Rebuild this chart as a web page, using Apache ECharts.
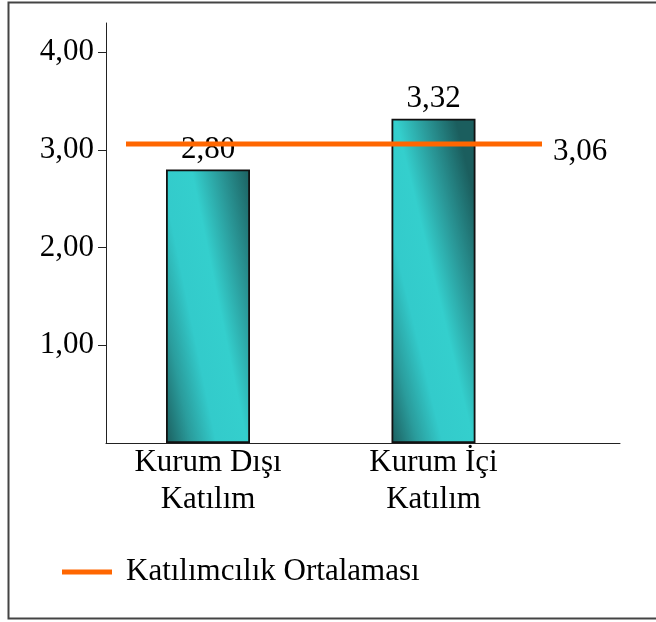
<!DOCTYPE html>
<html>
<head>
<meta charset="utf-8">
<script src="https://cdn.jsdelivr.net/npm/echarts@6/dist/echarts.min.js"></script>
<style>
  html, body { margin: 0; padding: 0; background: #ffffff; }
  #chart { width: 656px; height: 622px; }
</style>
</head>
<body>
<div id="chart"></div>
<script>
const CATEGORIES = ['Kurum Dışı\nKatılım', 'Kurum İçi\nKatılım'];
const VALUES = [2.80, 3.32];
const AVERAGE = 3.06;
const Y_TICKS = [1, 2, 3, 4];
const SERIES_NAME = 'Katılımcılık Ortalaması';

const FONT = "'Liberation Serif', 'Times New Roman', serif";
const fmt = v => Number(v).toFixed(2).replace('.', ',');

const barFill = new echarts.graphic.LinearGradient(0, 1, 1.6, 0.9, [
  { offset: 0, color: '#1b5e5e' },
  { offset: 0.18, color: '#2a9c9c' },
  { offset: 0.36, color: '#33cbcb' },
  { offset: 0.58, color: '#34cfcd' },
  { offset: 0.78, color: '#2a9898' },
  { offset: 1, color: '#1b5e5e' }
]);

const GRID_TOP = 23, GRID_BOTTOM = 179, Y_MAX = 4.3;

const chart = echarts.init(document.getElementById('chart'), null, { renderer: 'canvas' });
chart.setOption({
  animation: false,
  textStyle: { fontFamily: FONT },
  graphic: [{
    type: 'rect',
    shape: { x: 8.5, y: 2.5, width: 700, height: 616 },
    style: { fill: 'none', stroke: '#444', lineWidth: 2 },
    silent: true
  }],
  legend: {
    data: [SERIES_NAME],
    left: 62,
    top: 554,
    padding: 0,
    icon: 'rect',
    itemWidth: 50,
    itemHeight: 5,
    textStyle: { fontFamily: FONT, fontSize: 31, color: '#000', lineHeight: 36, padding: [0, 0, 0, 9] }
  },
  grid: [
    { left: 106, right: 36, top: GRID_TOP, bottom: GRID_BOTTOM },
    { left: 95.25, right: 109.75, top: GRID_TOP, bottom: GRID_BOTTOM },
    { left: 126, right: 114, top: GRID_TOP, bottom: GRID_BOTTOM }
  ],
  xAxis: [
    {
      gridIndex: 0, type: 'category', data: CATEGORIES,
      axisLine: { show: true, lineStyle: { color: '#222', width: 1 } },
      axisTick: { show: false }, axisLabel: { show: false }, splitLine: { show: false }
    },
    {
      gridIndex: 1, type: 'category', data: CATEGORIES,
      axisLine: { show: false }, axisTick: { show: false }, splitLine: { show: false },
      axisLabel: { color: '#000', fontFamily: FONT, fontSize: 31, lineHeight: 37, margin: 1 }
    },
    {
      gridIndex: 2, type: 'category', data: CATEGORIES, boundaryGap: false, show: false
    }
  ],
  yAxis: [
    {
      gridIndex: 0, type: 'value', min: 0, max: Y_MAX,
      axisLine: { show: true, lineStyle: { color: '#222', width: 1 } },
      axisTick: { show: true, length: 8, customValues: Y_TICKS, lineStyle: { color: '#222' } },
      axisLabel: { customValues: Y_TICKS, formatter: fmt, color: '#000', fontFamily: FONT, fontSize: 31, margin: 12 },
      splitLine: { show: false }
    },
    { gridIndex: 1, type: 'value', min: 0, max: Y_MAX, show: false, splitLine: { show: false } },
    { gridIndex: 2, type: 'value', min: 0, max: Y_MAX, show: false, splitLine: { show: false } }
  ],
  series: [
    {
      type: 'bar',
      xAxisIndex: 1, yAxisIndex: 1,
      data: VALUES,
      barWidth: 84,
      itemStyle: { color: barFill, borderColor: '#111', borderWidth: 1.8 },
      label: {
        show: true, position: 'top', distance: 4, formatter: p => fmt(p.value),
        color: '#000', fontFamily: FONT, fontSize: 31
      },
      z: 2
    },
    {
      type: 'line',
      name: SERIES_NAME,
      xAxisIndex: 2, yAxisIndex: 2,
      data: CATEGORIES.map(() => AVERAGE),
      symbol: 'none',
      color: '#ff6600',
      lineStyle: { color: '#ff6600', width: 5 },
      endLabel: {
        show: true, formatter: () => fmt(AVERAGE), distance: 11, offset: [0, 8],
        color: '#000', fontFamily: FONT, fontSize: 31
      },
      z: 3
    }
  ]
});
</script>
</body>
</html>
